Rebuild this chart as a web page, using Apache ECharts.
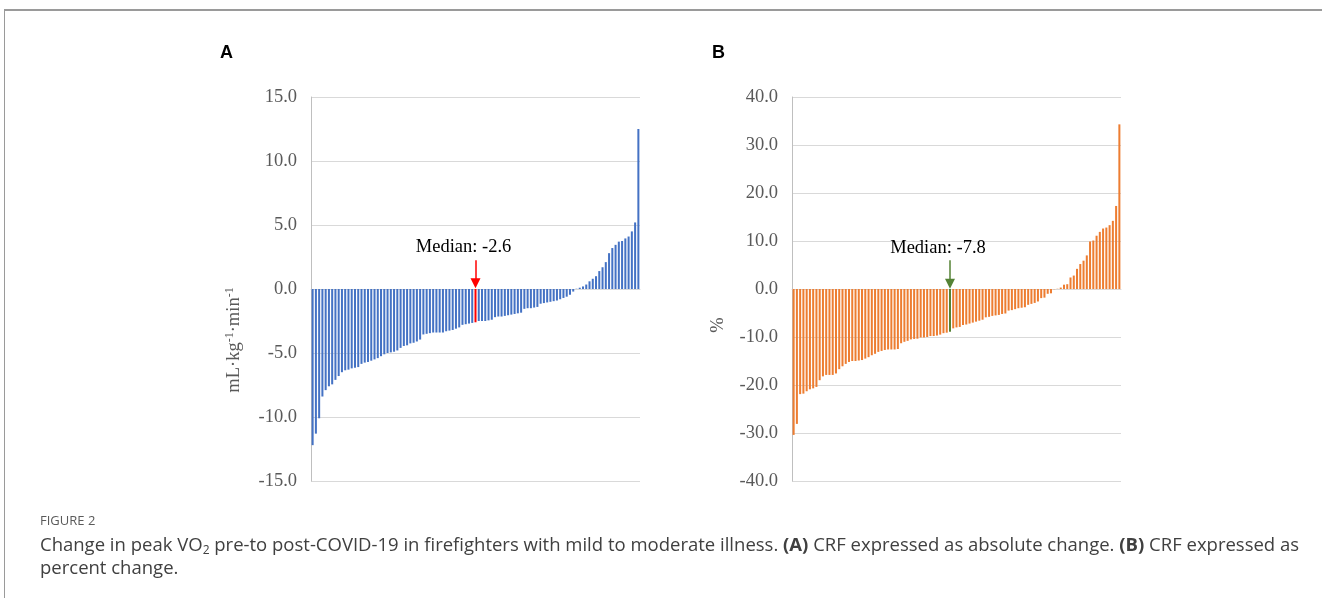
<!DOCTYPE html>
<html>
<head>
<meta charset="utf-8">
<script src="https://cdn.jsdelivr.net/npm/echarts@6/dist/echarts.min.js"></script>
<style>
  html, body { margin: 0; padding: 0; background: #fff; }
  #wrap { position: relative; width: 1322px; height: 598px; overflow: hidden; background: #fff; }
  #frame { position: absolute; left: 4px; top: 9px; width: 1330px; height: 600px; border-top: 2px solid #9a9a9a; border-left: 1px solid #9a9a9a; }
  #chart { position: absolute; left: 0; top: 0; width: 1322px; height: 598px; }
  .panel { position: absolute; font-family: "Liberation Sans", Arial, sans-serif; font-weight: bold; font-size: 18px; color: #000; }
  #figlabel { position: absolute; left: 40px; top: 511px; font-family: "Open Sans", "Noto Sans", sans-serif; font-size: 13px; color: #5a5a5a; }
  #caption { position: absolute; left: 40px; top: 532px; font-family: "Open Sans", "Noto Sans", sans-serif; font-size: 18.5px; line-height: 23px; color: #404040; white-space: nowrap; }
  #caption sub { font-size: 12px; vertical-align: -3px; line-height: 0; }
</style>
</head>
<body>
<div id="wrap">
  <div id="frame"></div>
  <div id="chart"></div>
  <div class="panel" style="left:220px; top:42px;">A</div>
  <div class="panel" style="left:712px; top:42px;">B</div>
  <div id="figlabel">FIGURE 2</div>
  <div id="caption">Change in peak VO<sub>2</sub> pre-to post-COVID-19 in firefighters with mild to moderate illness. <b>(A)</b> CRF expressed as absolute change. <b>(B)</b> CRF expressed as<br>percent change.</div>
</div>
<script>
// Panel A: absolute change in peak VO2 (mL·kg-1·min-1), sorted
const valuesA = [
  -12.2, -11.3, -10.1, -8.4, -7.9, -7.6, -7.45, -7.1, -6.8, -6.5,
  -6.35, -6.3, -6.2, -6.15, -6.1, -5.85, -5.75, -5.7, -5.6, -5.5,
  -5.4, -5.25, -5.1, -5.0, -4.95, -4.9, -4.8, -4.6, -4.45, -4.4,
  -4.25, -4.2, -4.1, -3.95, -3.55, -3.5, -3.45, -3.4, -3.4, -3.4,
  -3.4, -3.3, -3.25, -3.2, -3.1, -3.0, -2.8, -2.75, -2.7, -2.65,
  -2.6, -2.5, -2.5, -2.5, -2.45, -2.4, -2.2, -2.15, -2.15, -2.1,
  -2.05, -2.0, -1.95, -1.9, -1.85, -1.55, -1.5, -1.5, -1.45, -1.4,
  -1.15, -1.1, -1.05, -1.0, -0.95, -0.9, -0.8, -0.7, -0.6, -0.45,
  -0.2, 0.02, 0.1, 0.2, 0.35, 0.6, 0.8, 1.0, 1.4, 1.7,
  2.1, 2.8, 3.2, 3.45, 3.7, 3.75, 3.95, 4.1, 4.5, 5.2,
  12.5
];
// Panel B: percent change, sorted
const valuesB = [
  -30.4, -28.1, -21.9, -21.8, -21.3, -20.9, -20.7, -20.4, -19.0, -18.2,
  -17.9, -17.9, -17.9, -17.6, -16.7, -16.1, -15.6, -15.2, -15.0, -15.0,
  -14.9, -14.8, -14.5, -14.2, -13.8, -13.5, -13.1, -12.9, -12.7, -12.6,
  -12.6, -12.6, -12.5, -11.3, -11.0, -10.8, -10.5, -10.4, -10.35, -10.1,
  -10.1, -10.0, -9.8, -9.8, -9.7, -9.5, -9.2, -9.1, -8.9, -8.2,
  -8.0, -7.9, -7.5, -7.4, -7.2, -7.0, -6.8, -6.6, -6.4, -5.9,
  -5.8, -5.6, -5.5, -5.4, -5.2, -5.1, -4.5, -4.4, -4.2, -4.0,
  -3.9, -3.8, -3.3, -3.1, -2.9, -2.6, -1.9, -1.8, -1.0, -0.9,
  -0.05, 0.05, 0.3, 0.9, 1.0, 2.4, 2.8, 4.2, 5.2, 5.9,
  7.0, 9.9, 10.1, 11.1, 11.9, 12.6, 12.8, 13.3, 14.2, 17.3,
  34.3
];
const medianIndexA = 50;
const medianIndexB = 48;
const medianLabelA = 'Median: -2.6';
const medianLabelB = 'Median: -7.8';
const yTicksA = { min: -15, max: 15, interval: 5 };
const yTicksB = { min: -40, max: 40, interval: 10 };
const yNameA = 'mL·kg{s|-1}·min{s|-1}';
const yNameB = '%';

const catsA = valuesA.map((_, i) => String(i + 1));
const catsB = valuesB.map((_, i) => String(i + 1));

const serif = '"Liberation Serif", "Times New Roman", serif';
const fs = 18.5;
const labelColor = '#595959';
const gridColor = '#d9d9d9';

function barData(vals, idx, hiColor) {
  return vals.map((v, i) => i === idx ? { value: v, itemStyle: { color: hiColor } } : v);
}

function yAxis(gridIndex, ticks, name, gap, shiftDown) {
  return {
    type: 'value', gridIndex, min: ticks.min, max: ticks.max, interval: ticks.interval,
    name, nameLocation: 'middle', nameGap: gap,
    nameTextStyle: { fontFamily: serif, fontSize: fs, color: labelColor, padding: [0, shiftDown * 2, 0, 0],
      rich: { s: { fontFamily: serif, fontSize: 12, color: labelColor, verticalAlign: 'top', padding: [0, 0, 9, 0] } } },
    axisLine: { show: true, lineStyle: { color: '#bfbfbf', width: 1 } },
    axisTick: { show: false },
    axisLabel: { fontFamily: serif, fontSize: fs, color: labelColor, margin: 14, formatter: v => v.toFixed(1) },
    splitLine: { show: true, lineStyle: { color: gridColor, width: 1 } }
  };
}
function xAxis(gridIndex, cats) {
  return {
    type: 'category', gridIndex, data: cats,
    axisLine: { show: true, onZero: true, lineStyle: { color: gridColor, width: 1 } },
    axisTick: { show: false }, axisLabel: { show: false }, splitLine: { show: false }
  };
}
function medianMarks(idx, color, lineFrom, lineTo, labelAt, text) {
  return {
    markLine: {
      silent: true, symbol: ['none', 'triangle'], symbolSize: [10, 10],
      lineStyle: { color, width: 1.5, type: 'solid' },
      label: { show: false },
      data: [[{ coord: [idx, lineFrom] }, { coord: [idx, lineTo] }]]
    },
    markPoint: {
      silent: true, symbol: 'circle', symbolSize: 0,
      label: { show: true, position: 'top', distance: 0, offset: [-12, 0], formatter: text, fontFamily: serif, fontSize: fs, color: '#000' },
      data: [{ coord: [idx, labelAt] }]
    }
  };
}

const chart = echarts.init(document.getElementById('chart'), null, { renderer: 'canvas' });
chart.setOption({
  animation: false,
  grid: [
    { left: 311, right: 682, top: 97, bottom: 117 },
    { left: 792, right: 201, top: 97, bottom: 117 }
  ],
  xAxis: [xAxis(0, catsA), xAxis(1, catsB)],
  yAxis: [yAxis(0, yTicksA, yNameA, 66, 51), yAxis(1, yTicksB, yNameB, 64, 36)],
  series: [
    Object.assign({
      type: 'bar', xAxisIndex: 0, yAxisIndex: 0, data: barData(valuesA, medianIndexA, '#ff0000'),
      itemStyle: { color: '#4472C4' }, barCategoryGap: '38%'
    }, medianMarks(medianIndexA, '#ff0000', 2.25, 0.45, 2.5, medianLabelA)),
    Object.assign({
      type: 'bar', xAxisIndex: 1, yAxisIndex: 1, data: barData(valuesB, medianIndexB, '#548235'),
      itemStyle: { color: '#ED7D31' }, barCategoryGap: '38%'
    }, medianMarks(medianIndexB, '#548235', 6.0, 1.1, 6.6, medianLabelB))
  ]
});
</script>
</body>
</html>
